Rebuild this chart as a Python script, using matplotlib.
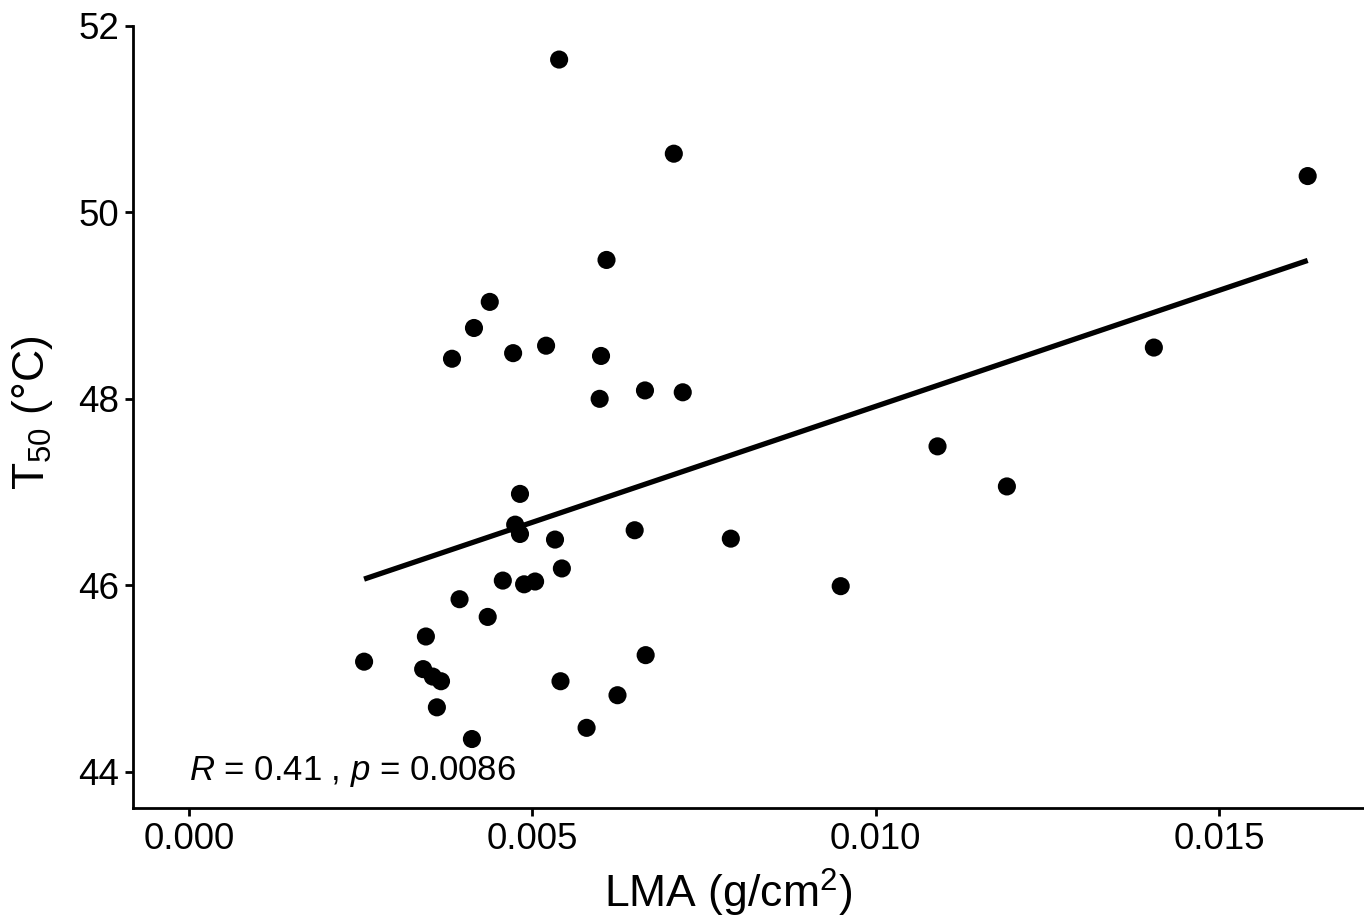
import numpy as np
import matplotlib
matplotlib.use('Agg')
import matplotlib.pyplot as plt

plt.rcParams['font.family'] = ['Liberation Sans', 'DejaVu Sans']
plt.rcParams['mathtext.fontset'] = 'custom'
plt.rcParams['mathtext.rm'] = 'Liberation Sans'
plt.rcParams['mathtext.it'] = 'Liberation Sans:italic'

# LMA (g/cm2) and T50 (degC)
lma = [0.00255, 0.00345, 0.00341, 0.00355, 0.00367, 0.00361, 0.00383, 0.00394,
       0.00412, 0.00415, 0.00435, 0.00438, 0.00457, 0.00472, 0.00475, 0.00482,
       0.00482, 0.00488, 0.00504, 0.00520, 0.00533, 0.00539, 0.00543, 0.00541,
       0.00579, 0.00598, 0.00600, 0.00608, 0.00624, 0.00649, 0.00664, 0.00665,
       0.00706, 0.00719, 0.00789, 0.00949, 0.01090, 0.01191, 0.01405, 0.01629]
t50 = [45.18, 45.45, 45.10, 45.02, 44.97, 44.69, 48.43, 45.85,
       44.35, 48.76, 45.66, 49.04, 46.05, 48.49, 46.65, 46.98,
       46.55, 46.01, 46.04, 48.57, 46.49, 51.64, 46.18, 44.97,
       44.47, 48.00, 48.46, 49.49, 44.82, 46.59, 48.09, 45.25,
       50.63, 48.07, 46.50, 45.99, 47.49, 47.06, 48.55, 50.39]
xticks = [0.000, 0.005, 0.010, 0.015]
yticks = [44, 46, 48, 50, 52]
stat_label = '$\\mathit{R}$ = 0.41 , $\\mathit{p}$ = 0.0086'

x = np.array(lma)
y = np.array(t50)
slope, icpt = np.polyfit(x, y, 1)
xl = np.array([x.min(), x.max()])

fig = plt.figure(figsize=(13.64, 9.17), dpi=100)
ax = fig.add_axes([133 / 1364, 109 / 917, 1 - 133 / 1364, (808 - 26) / 917])

ax.scatter(x, y, s=170, color='black', edgecolors='none', zorder=3)
ax.plot(xl, slope * xl + icpt, color='black', lw=3.8, solid_capstyle='butt', zorder=2)
ax.text(0.0, 44.0, stat_label, ha='left', va='center', fontsize=25)

ax.set_xlim(-0.000815, 0.01711)
ax.set_ylim(43.61, 52.0)
ax.set_xticks(xticks)
ax.set_xticklabels(['%.3f' % v for v in xticks])
ax.set_yticks(yticks)

for s in ['top', 'right']:
    ax.spines[s].set_visible(False)
for s in ['left', 'bottom']:
    ax.spines[s].set_linewidth(2.0)
ax.tick_params(width=2.0, length=6, labelsize=26.5, pad=4, colors='black')

ax.set_xlabel('LMA (g/cm$^{2}$)', fontsize=32)
ax.set_ylabel('T$_{50}$ (°C)', fontsize=32)
ax.xaxis.set_label_coords(0.483, -0.075)
ax.yaxis.set_label_coords(-0.063, 0.505)

fig.savefig('out.png', dpi=100)
